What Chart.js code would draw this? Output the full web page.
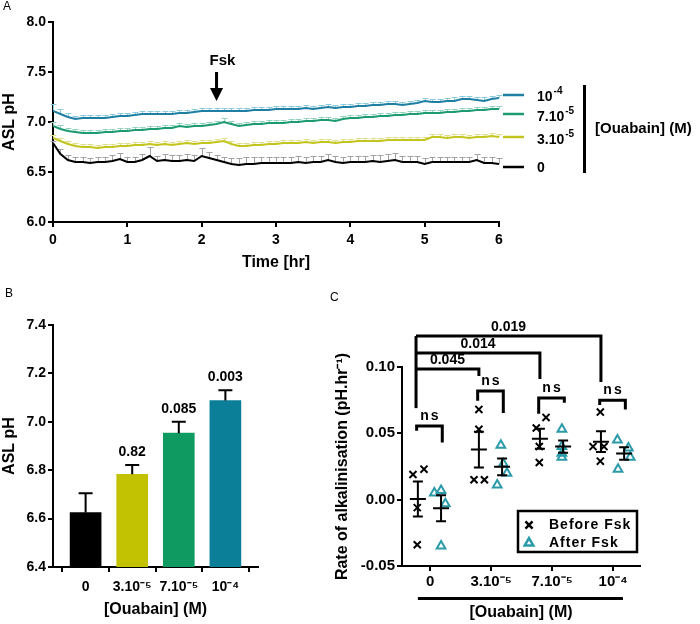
<!DOCTYPE html>
<html>
<head>
<meta charset="utf-8">
<script src="https://cdn.jsdelivr.net/npm/chart.js@4.4.1/dist/chart.umd.min.js"></script>
<style>
  html, body { margin: 0; padding: 0; background: #fff; }
  #wrap { position: relative; width: 700px; height: 624px; }
  #wrap canvas { position: absolute; left: 0; top: 0; }
</style>
</head>
<body>
<div id="wrap">
  <canvas id="panelA" width="700" height="624"></canvas>
  <canvas id="panelB" width="700" height="624"></canvas>
  <canvas id="panelC" width="700" height="624"></canvas>
</div>
<script>
// ---- data ----
// panel A: ASL pH time course, one sample every 0.1 hr
const timeHr = [0,0.1,0.2,0.3,0.4,0.5,0.6,0.7,0.8,0.9,
  1,1.1,1.2,1.3,1.4,1.5,1.6,1.7,1.8,1.9,
  2,2.1,2.2,2.3,2.4,2.5,2.6,2.7,2.8,2.9,
  3,3.1,3.2,3.3,3.4,3.5,3.6,3.7,3.8,3.9,
  4,4.1,4.2,4.3,4.4,4.5,4.6,4.7,4.8,4.9,
  5,5.1,5.2,5.3,5.4,5.5,5.6,5.7,5.8,5.9,6];

const ph1e4 = [7.11,7.08,7.05,7.03,7.04,7.04,7.04,7.04,7.05,7.06,
  7.06,7.07,7.08,7.08,7.08,7.08,7.08,7.09,7.09,7.10,
  7.11,7.11,7.11,7.11,7.11,7.11,7.11,7.12,7.12,7.12,
  7.13,7.13,7.13,7.13,7.14,7.13,7.14,7.15,7.14,7.15,
  7.15,7.16,7.16,7.17,7.17,7.18,7.18,7.17,7.18,7.19,
  7.21,7.20,7.20,7.21,7.21,7.23,7.23,7.22,7.21,7.23,7.24];
const ph7e5 = [6.96,6.93,6.91,6.90,6.89,6.89,6.89,6.90,6.90,6.91,
  6.91,6.92,6.92,6.93,6.93,6.94,6.94,6.96,6.95,6.96,
  6.96,6.97,6.98,7.00,6.98,6.96,6.97,6.98,6.98,6.99,
  6.99,6.99,7.00,7.00,7.01,7.01,7.02,7.02,7.01,7.03,
  7.04,7.04,7.05,7.05,7.06,7.06,7.07,7.07,7.08,7.08,
  7.09,7.09,7.09,7.10,7.10,7.11,7.11,7.12,7.12,7.13,7.13];
const ph3e5 = [6.84,6.81,6.78,6.76,6.75,6.75,6.74,6.75,6.75,6.76,
  6.76,6.77,6.77,6.78,6.77,6.78,6.77,6.78,6.79,6.78,
  6.79,6.79,6.80,6.81,6.78,6.76,6.76,6.77,6.77,6.78,
  6.78,6.79,6.79,6.79,6.80,6.79,6.80,6.80,6.79,6.80,
  6.80,6.81,6.81,6.81,6.81,6.82,6.82,6.82,6.82,6.82,
  6.82,6.85,6.85,6.84,6.85,6.85,6.84,6.85,6.85,6.86,6.85];
const ph0 = [6.79,6.68,6.62,6.60,6.60,6.59,6.60,6.60,6.61,6.63,
  6.60,6.60,6.62,6.66,6.61,6.62,6.61,6.61,6.62,6.61,
  6.66,6.64,6.62,6.60,6.58,6.57,6.58,6.58,6.59,6.59,
  6.59,6.59,6.59,6.60,6.59,6.60,6.60,6.62,6.60,6.59,
  6.60,6.60,6.60,6.61,6.60,6.61,6.62,6.60,6.60,6.60,
  6.58,6.60,6.60,6.60,6.60,6.60,6.60,6.62,6.59,6.59,6.58];

// upward SEM for each time point
const sem1e4 = [0.07,0.05,0.04,0.03,0.03,0.03,0.03,0.03,0.03,0.03,
  0.03,0.03,0.03,0.03,0.03,0.03,0.03,0.03,0.03,0.03,
  0.03,0.03,0.03,0.03,0.03,0.03,0.03,0.03,0.03,0.03,
  0.03,0.03,0.03,0.03,0.03,0.03,0.03,0.03,0.03,0.03,
  0.03,0.03,0.03,0.03,0.03,0.03,0.03,0.03,0.03,0.03,
  0.03,0.03,0.03,0.03,0.04,0.03,0.03,0.03,0.04,0.03,0.03];
const sem7e5 = [0.04,0.04,0.03,0.03,0.03,0.03,0.03,0.03,0.03,0.03,
  0.03,0.03,0.03,0.03,0.03,0.03,0.03,0.03,0.03,0.03,
  0.03,0.03,0.03,0.04,0.03,0.03,0.03,0.03,0.03,0.03,
  0.03,0.03,0.03,0.03,0.03,0.03,0.03,0.03,0.03,0.03,
  0.03,0.03,0.03,0.03,0.03,0.03,0.03,0.03,0.03,0.03,
  0.03,0.03,0.03,0.03,0.03,0.03,0.03,0.03,0.03,0.03,0.03];
const sem3e5 = [0.03,0.03,0.03,0.03,0.03,0.03,0.03,0.03,0.03,0.03,
  0.03,0.03,0.03,0.03,0.03,0.03,0.03,0.03,0.03,0.03,
  0.03,0.03,0.03,0.03,0.03,0.03,0.03,0.03,0.03,0.03,
  0.03,0.03,0.03,0.03,0.03,0.03,0.03,0.03,0.03,0.03,
  0.03,0.03,0.03,0.03,0.03,0.03,0.03,0.03,0.03,0.03,
  0.03,0.03,0.03,0.03,0.03,0.03,0.03,0.03,0.03,0.03,0.03];
const sem0 = [0.02,0.05,0.05,0.05,0.05,0.05,0.05,0.05,0.06,0.06,
  0.05,0.05,0.06,0.09,0.05,0.06,0.06,0.06,0.06,0.06,
  0.08,0.06,0.05,0.05,0.06,0.07,0.07,0.07,0.06,0.06,
  0.06,0.06,0.06,0.06,0.06,0.06,0.06,0.06,0.06,0.06,
  0.06,0.06,0.06,0.06,0.07,0.07,0.07,0.06,0.06,0.06,
  0.06,0.05,0.05,0.05,0.05,0.05,0.05,0.06,0.06,0.06,0.06];
const fskTime = 2.2;

// doses (base + exponent, drawn as superscript)
const doseBase = ['0', '3.10', '7.10', '10'];
const doseExp = ['', '-5', '-5', '-4'];
const doseTicks = ['0', '3.10\u207B\u2075', '7.10\u207B\u2075', '10\u207B\u2074'];

// panel B: mean ASL pH per dose
const barMeans = [6.625, 6.783, 6.953, 7.088];
const barSem = [0.08, 0.038, 0.047, 0.042];
const barP = ['', '0.82', '0.085', '0.003'];

// panel C: rate of alkalinisation per insert
const beforeFsk = [[0.019, 0.023, -0.006, -0.034], [0.068, 0.053, 0.015, 0.015],
  [0.054, 0.062, 0.040, 0.028], [0.066, 0.040, 0.040, 0.029]];
const afterFsk = [[0.005, 0.007, -0.003, -0.035], [0.041, 0.027, 0.020, 0.011],
  [0.053, 0.040, 0.035, 0.032], [0.045, 0.039, 0.032, 0.023]];
const beforeJitter = [[-0.28, -0.10, -0.21, -0.21], [-0.20, -0.20, -0.28, -0.11],
  [-0.26, -0.10, -0.21, -0.21], [-0.21, -0.33, -0.15, -0.21]];
const afterJitter = [[0.07, 0.18, 0.25, 0.18], [0.16, 0.20, 0.26, 0.10],
  [0.16, 0.16, 0.16, 0.16], [0.07, 0.25, 0.28, 0.08]];
const vsControlP = ['0.045', '0.014', '0.019'];

// ---- styling ----
const FONT = '"Liberation Sans", Arial, Helvetica, sans-serif';
Chart.defaults.font.family = FONT;
Chart.defaults.font.weight = 'bold';
Chart.defaults.color = '#000';

const lineColors = ['#1f7fa3', '#1c9a72', '#c4c41e', '#000000'];
const errColors = ['#8ccbdb', '#95d3bb', '#dfdf8e', '#a3a3a3'];
const barColors = ['#000000', '#c2c203', '#0f9a62', '#0b7e98'];
const triColor = '#2b9aa9';

function axisStyle(extra) {
  return Object.assign({
    grid: { drawOnChartArea: false, drawTicks: true, tickLength: 5, color: '#000', lineWidth: 2 },
    border: { display: true, color: '#000', width: 2 }
  }, extra);
}

function supText(ctx, base, exp, x, y, size, align) {
  ctx.font = 'bold ' + size + 'px ' + FONT;
  const wb = ctx.measureText(base).width;
  const supSize = Math.round(size * 0.68);
  ctx.font = 'bold ' + supSize + 'px ' + FONT;
  const we = exp ? ctx.measureText(exp).width + 1 : 0;
  let x0 = x;
  if (align === 'center') x0 = x - (wb + we) / 2;
  ctx.textAlign = 'left';
  ctx.textBaseline = 'middle';
  ctx.font = 'bold ' + size + 'px ' + FONT;
  ctx.fillText(base, x0, y);
  if (exp) {
    ctx.font = 'bold ' + supSize + 'px ' + FONT;
    ctx.fillText(exp, x0 + wb + 1, y - size * 0.38);
  }
}

// ---- panel A ----
const seriesA = [
  { values: ph1e4, err: sem1e4 },
  { values: ph7e5, err: sem7e5 },
  { values: ph3e5, err: sem3e5 },
  { values: ph0, err: sem0 }
];

const errorBarsA = {
  id: 'errorBarsA',
  beforeDatasetsDraw(chart) {
    const { ctx, scales: { x, y } } = chart;
    chart.data.datasets.forEach((ds, k) => {
      ctx.save();
      ctx.strokeStyle = errColors[k];
      ctx.lineWidth = 1;
      ctx.beginPath();
      ds.data.forEach((p, i) => {
        const px = Math.round(x.getPixelForValue(p.x)) + 0.5;
        const py = y.getPixelForValue(p.y);
        const pe = Math.round(y.getPixelForValue(p.y + seriesA[k].err[i])) + 0.5;
        ctx.moveTo(px, py);
        ctx.lineTo(px, pe);
        ctx.moveTo(px - 3, pe);
        ctx.lineTo(px + 3, pe);
      });
      ctx.stroke();
      ctx.restore();
    });
  }
};

const decorA = {
  id: 'decorA',
  afterDraw(chart) {
    const { ctx, scales: { x } } = chart;
    ctx.save();
    ctx.fillStyle = '#000';
    ctx.font = '12px ' + FONT;
    ctx.textBaseline = 'middle';
    ctx.textAlign = 'left';
    ctx.fillText('A', 3, 7);

    // Fsk arrow
    const ax = x.getPixelForValue(fskTime);
    ctx.font = 'bold 15px ' + FONT;
    ctx.textAlign = 'center';
    ctx.fillText('Fsk', ax + 6, 61);
    ctx.fillRect(ax - 1.5, 72, 3, 17);
    ctx.beginPath();
    ctx.moveTo(ax - 6.5, 88);
    ctx.lineTo(ax + 6.5, 88);
    ctx.lineTo(ax, 101);
    ctx.closePath();
    ctx.fill();

    // legend
    const legY = [95, 114, 137, 167];
    const txtY = [97, 117, 140, 168];
    legY.forEach((ly, i) => {
      ctx.strokeStyle = lineColors[i];
      ctx.lineWidth = 2.5;
      ctx.beginPath();
      ctx.moveTo(503, ly);
      ctx.lineTo(524, ly);
      ctx.stroke();
      ctx.fillStyle = '#000';
      supText(ctx, doseBase[3 - i], doseExp[3 - i], 537, txtY[i], 14, 'left');
    });
    ctx.fillRect(583, 85, 3, 88);
    ctx.font = 'bold 15px ' + FONT;
    ctx.textAlign = 'left';
    ctx.textBaseline = 'middle';
    ctx.fillText('[Ouabain] (M)', 595, 129);
    ctx.restore();
  }
};

new Chart(document.getElementById('panelA'), {
  type: 'line',
  data: {
    datasets: seriesA.map((s, k) => ({
      data: timeHr.map((t, i) => ({ x: t, y: s.values[i] })),
      borderColor: lineColors[k],
      borderWidth: 2,
      pointRadius: 0,
      tension: 0
    }))
  },
  options: {
    responsive: false,
    animation: false,
    devicePixelRatio: 1,
    layout: { padding: { left: 0, top: 22, right: 201, bottom: 352 } },
    plugins: { legend: { display: false }, tooltip: { enabled: false } },
    scales: {
      x: axisStyle({
        type: 'linear', min: 0, max: 6,
        ticks: { stepSize: 1, padding: 5, font: { size: 14, weight: 'bold' } },
        title: { display: true, text: 'Time [hr]', font: { size: 16, weight: 'bold' }, padding: 0 },
        afterFit(s) { s.height = 50; }
      }),
      y: axisStyle({
        min: 6, max: 8,
        ticks: { stepSize: 0.5, padding: 2, font: { size: 14, weight: 'bold' }, callback: v => v.toFixed(1) },
        title: { display: true, text: 'ASL pH', font: { size: 16, weight: 'bold' }, padding: 0 },
        afterFit(s) { s.width = 53; }
      })
    }
  },
  plugins: [errorBarsA, decorA]
});

// ---- panel B ----
const decorB = {
  id: 'decorB',
  afterDatasetsDraw(chart) {
    const { ctx, scales: { x, y } } = chart;
    ctx.save();
    ctx.strokeStyle = '#000';
    ctx.fillStyle = '#000';
    ctx.lineWidth = 2;
    barMeans.forEach((m, i) => {
      const px = x.getPixelForValue(i);
      const py = y.getPixelForValue(m);
      const pe = y.getPixelForValue(m + barSem[i]);
      ctx.beginPath();
      ctx.moveTo(px, py);
      ctx.lineTo(px, pe);
      ctx.moveTo(px - 7, pe);
      ctx.lineTo(px + 7, pe);
      ctx.stroke();
      if (barP[i]) {
        ctx.font = 'bold 14px ' + FONT;
        ctx.textAlign = 'center';
        ctx.textBaseline = 'middle';
        ctx.fillText(barP[i], px, pe - 13);
      }
    });
    ctx.font = '12px ' + FONT;
    ctx.textAlign = 'left';
    ctx.fillText('B', 5, 294);
    ctx.restore();
  }
};

new Chart(document.getElementById('panelB'), {
  type: 'bar',
  data: {
    datasets: [{
      data: barMeans.map((v, i) => ({ x: i, y: v })),
      backgroundColor: barColors,
      barThickness: 31
    }]
  },
  options: {
    responsive: false,
    animation: false,
    devicePixelRatio: 1,
    layout: { padding: { left: 0, top: 325, right: 442, bottom: 5 } },
    plugins: { legend: { display: false }, tooltip: { enabled: false } },
    scales: {
      x: axisStyle({
        type: 'linear', min: -0.7, max: 3.7, offset: false,
        afterBuildTicks(s) { s.ticks = [0, 1, 2, 3].map(v => ({ value: v })); },
        ticks: { padding: 7, autoSkip: false, maxRotation: 0, font: { size: 14, weight: 'bold' }, callback: v => doseTicks[v] },
        title: { display: true, text: '[Ouabain] (M)', font: { size: 16, weight: 'bold' }, padding: 0 },
        afterFit(s) { s.height = 52; }
      }),
      y: axisStyle({
        min: 6.4, max: 7.4,
        ticks: { stepSize: 0.2, padding: 2, font: { size: 14, weight: 'bold' }, callback: v => v.toFixed(1) },
        title: { display: true, text: 'ASL pH', font: { size: 16, weight: 'bold' }, padding: 0 },
        afterFit(s) { s.width = 53; }
      })
    }
  },
  plugins: [decorB]
});

// ---- panel C ----
function mean(a) { return a.reduce((s, v) => s + v, 0) / a.length; }
function sem(a) {
  const m = mean(a);
  const sd = Math.sqrt(a.reduce((s, v) => s + (v - m) * (v - m), 0) / (a.length - 1));
  return sd / Math.sqrt(a.length);
}

const beforePts = [];
const afterPts = [];
beforeFsk.forEach((g, gi) => g.forEach((v, j) => beforePts.push({ x: gi + beforeJitter[gi][j], y: v })));
afterFsk.forEach((g, gi) => g.forEach((v, j) => afterPts.push({ x: gi + afterJitter[gi][j], y: v })));

const decorC = {
  id: 'decorC',
  afterDraw(chart) {
    const { ctx, scales: { x, y }, chartArea } = chart;
    const px = v => x.getPixelForValue(v);
    const py = v => y.getPixelForValue(v);
    ctx.save();
    ctx.strokeStyle = '#000';
    ctx.fillStyle = '#000';

    // mean +/- SEM
    ctx.lineWidth = 2;
    [[beforeFsk, -0.2], [afterFsk, 0.18]].forEach(([set, off]) => {
      set.forEach((g, gi) => {
        const cx = px(gi + off), m = mean(g), e = sem(g);
        ctx.beginPath();
        ctx.moveTo(cx - 8, py(m)); ctx.lineTo(cx + 8, py(m));
        ctx.moveTo(cx, py(m - e)); ctx.lineTo(cx, py(m + e));
        ctx.moveTo(cx - 5, py(m - e)); ctx.lineTo(cx + 5, py(m - e));
        ctx.moveTo(cx - 5, py(m + e)); ctx.lineTo(cx + 5, py(m + e));
        ctx.stroke();
      });
    });

    // brackets
    ctx.lineWidth = 3;
    ctx.lineJoin = 'miter';
    ctx.textAlign = 'center';
    ctx.textBaseline = 'middle';
    const nsLevels = [[0.0556, 0.052, 0.043], [0.082, 0.0745, 0.0654], [0.0767, 0.0647, 0.073], [0.075, 0.0714, 0.068]];
    nsLevels.forEach(([top, l, r], gi) => {
      const x1 = px(gi - 0.22), x2 = px(gi + 0.2);
      ctx.beginPath();
      ctx.moveTo(x1, py(l)); ctx.lineTo(x1, py(top)); ctx.lineTo(x2, py(top)); ctx.lineTo(x2, py(r));
      ctx.stroke();
      ctx.font = 'bold 14px ' + FONT;
      ctx.letterSpacing = '2px';
      ctx.fillText('ns', (x1 + x2) / 2 + 1, py(top) - 10);
      ctx.letterSpacing = '0px';
    });
    const bigLevels = [[0.0985, 0.0932], [0.1105, 0.091], [0.1233, 0.0887]];
    const xl = px(-0.23);
    ctx.beginPath();
    ctx.moveTo(xl, py(0.069)); ctx.lineTo(xl, py(0.1233));
    ctx.stroke();
    bigLevels.forEach(([top, r], k) => {
      const x2 = px(k + 1 - 0.2);
      ctx.beginPath();
      ctx.moveTo(xl, py(top)); ctx.lineTo(x2, py(top)); ctx.lineTo(x2, py(r));
      ctx.stroke();
      ctx.font = 'bold 14px ' + FONT;
      ctx.fillText(vsControlP[k], (xl + x2) / 2, py(top) - 9);
    });

    // bar under the dose labels
    ctx.fillRect(px(-0.2), chartArea.bottom + 31, px(3.16) - px(-0.2), 3);

    // legend box
    ctx.lineWidth = 2.5;
    ctx.strokeRect(518, 511, 119, 41);
    Chart.helpers.drawPoint(ctx, { pointStyle: 'crossRot', radius: 5, borderWidth: 2, rotation: 0 }, 529, 525);
    ctx.strokeStyle = triColor;
    ctx.fillStyle = 'rgba(0,0,0,0)';
    Chart.helpers.drawPoint(ctx, { pointStyle: 'triangle', radius: 5, borderWidth: 2, rotation: 0 }, 529, 543);
    ctx.fillStyle = '#000';
    ctx.font = 'bold 14px ' + FONT;
    ctx.textAlign = 'left';
    ctx.letterSpacing = '1px';
    ctx.fillText('Before Fsk', 549, 525);
    ctx.fillText('After Fsk', 549, 543);
    ctx.letterSpacing = '0px';

    ctx.font = '12px ' + FONT;
    ctx.fillText('C', 330, 298);
    ctx.restore();
  }
};

new Chart(document.getElementById('panelC'), {
  type: 'scatter',
  data: {
    datasets: [
      { label: 'Before Fsk', data: beforePts, pointStyle: 'crossRot', pointRadius: 5,
        borderColor: '#000', backgroundColor: '#000', borderWidth: 2 },
      { label: 'After Fsk', data: afterPts, pointStyle: 'triangle', pointRadius: 5,
        borderColor: triColor, backgroundColor: 'rgba(0,0,0,0)', borderWidth: 2 }
    ]
  },
  options: {
    responsive: false,
    animation: false,
    devicePixelRatio: 1,
    layout: { padding: { left: 333, top: 367, right: 60, bottom: 2 } },
    plugins: { legend: { display: false }, tooltip: { enabled: false } },
    scales: {
      x: axisStyle({
        type: 'linear', min: -0.46, max: 3.44,
        afterBuildTicks(s) { s.ticks = [0, 1, 2, 3].map(v => ({ value: v })); },
        ticks: { padding: 2, autoSkip: false, maxRotation: 0, font: { size: 15, weight: 'bold' }, callback: v => doseTicks[v] },
        title: { display: true, text: '[Ouabain] (M)', font: { size: 16, weight: 'bold' }, padding: 0 },
        afterFit(s) { s.height = 56; }
      }),
      y: axisStyle({
        min: -0.05, max: 0.10,
        ticks: { stepSize: 0.05, padding: 2, font: { size: 15, weight: 'bold' }, callback: v => v.toFixed(2) },
        title: { display: true, text: 'Rate of alkalinisation (pH.hr\u207B\u00B9)', font: { size: 16, weight: 'bold' }, padding: 0 },
        afterFit(s) { s.width = 69; }
      })
    }
  },
  plugins: [decorC]
});
</script>
</body>
</html>
